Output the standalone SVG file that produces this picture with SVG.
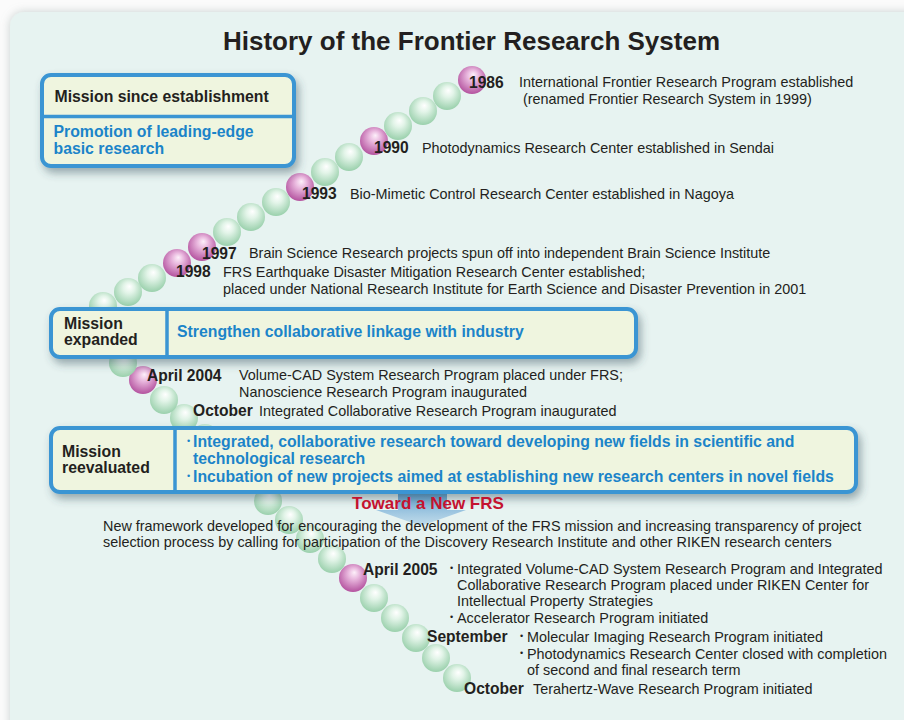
<svg xmlns="http://www.w3.org/2000/svg" width="904" height="720" viewBox="0 0 904 720">
<defs>
<radialGradient id="gG" cx="0.5" cy="0.42" r="0.58" fx="0.55" fy="0.3">
<stop offset="0" stop-color="#ffffff"/>
<stop offset="0.35" stop-color="#e2f4e8"/>
<stop offset="1" stop-color="#9ad0ac"/>
</radialGradient>
<radialGradient id="gP" cx="0.5" cy="0.42" r="0.58" fx="0.55" fy="0.3">
<stop offset="0" stop-color="#fdf0fa"/>
<stop offset="0.35" stop-color="#e9b8de"/>
<stop offset="1" stop-color="#b4539f"/>
</radialGradient>
<linearGradient id="gA" x1="0" y1="0" x2="0" y2="1">
<stop offset="0" stop-color="#3f8cc6" stop-opacity="0.95"/>
<stop offset="1" stop-color="#a9cde6" stop-opacity="0.6"/>
</linearGradient>
<filter id="sh" x="-10%" y="-20%" width="125%" height="160%">
<feDropShadow dx="3" dy="5" stdDeviation="4" flood-color="#34505c" flood-opacity="0.45"/>
</filter>
<filter id="psh" x="-5%" y="-5%" width="110%" height="110%">
<feDropShadow dx="0" dy="0" stdDeviation="5" flood-color="#8a9a98" flood-opacity="0.45"/>
</filter>
<style>
.g{fill:url(#gG)}
.p{fill:url(#gP)}
.t{font-family:"Liberation Sans",Arial,sans-serif;fill:#231f20}
.d{font-size:14.4px}
.y{font-size:15.6px;font-weight:bold}
.mb{font-family:"Liberation Sans",Arial,sans-serif;font-size:15.8px;font-weight:bold;fill:#231f20}
.bl{font-family:"Liberation Sans",Arial,sans-serif;font-size:15.8px;font-weight:bold;fill:#1b84c9}
.bu{font-family:"Liberation Sans",Arial,sans-serif;font-size:9px}
.box{fill:#eff5df;stroke:#3a95d3;stroke-width:4}
.div{stroke:#3a95d3;stroke-width:3.5}
</style>
</defs>
<rect x="0" y="0" width="904" height="720" fill="#fbfbfb"/>
<rect x="10" y="12" width="930" height="740" rx="14" fill="#e7f3f1" filter="url(#psh)"/>

<text class="t" x="471.5" y="50" font-size="26" font-weight="bold" text-anchor="middle">History of the Frontier Research System</text>

<g id="beads">
<circle class="g" cx="457" cy="678" r="14"/>
<circle class="g" cx="436" cy="658" r="14"/>
<circle class="g" cx="416" cy="638" r="14"/>
<circle class="g" cx="395" cy="618" r="14"/>
<circle class="g" cx="374" cy="598" r="14"/>
<circle class="p" cx="353" cy="578" r="14"/>
<circle class="g" cx="332" cy="559" r="14"/>
<circle class="g" cx="310" cy="539" r="14"/>
<circle class="g" cx="289" cy="520" r="14"/>
<circle class="g" cx="268" cy="501" r="14"/>
<circle class="g" cx="247" cy="480" r="14"/>
<circle class="g" cx="226" cy="459" r="14"/>
<circle class="g" cx="205" cy="438" r="14"/>
<circle class="g" cx="184" cy="418" r="14"/>
<circle class="g" cx="164" cy="400" r="14"/>
<circle class="p" cx="143" cy="380" r="14"/>
<circle class="g" cx="123" cy="363" r="14"/>
<circle class="g" cx="100" cy="345" r="14"/>
<circle class="g" cx="86" cy="327" r="14"/>
<circle class="g" cx="103" cy="306" r="14"/>
<circle class="g" cx="128" cy="292" r="14"/>
<circle class="g" cx="152" cy="278" r="14"/>
<circle class="p" cx="177" cy="263" r="14"/>
<circle class="p" cx="202" cy="247" r="14"/>
<circle class="g" cx="227" cy="232" r="14"/>
<circle class="g" cx="251" cy="217" r="14"/>
<circle class="g" cx="276" cy="202" r="14"/>
<circle class="p" cx="300" cy="187" r="14"/>
<circle class="g" cx="325" cy="172" r="14"/>
<circle class="g" cx="349" cy="157" r="14"/>
<circle class="p" cx="374" cy="141" r="14"/>
<circle class="g" cx="398" cy="126" r="14"/>
<circle class="g" cx="423" cy="111" r="14"/>
<circle class="g" cx="447" cy="96" r="14"/>
<circle class="p" cx="472" cy="80" r="14"/>
</g>

<g id="arrow">
<path d="M398,488 L447,488 L447,510 L466,510 L421,526 L376,510 L398,510 Z" fill="url(#gA)"/>
</g>

<g id="mission1">
<rect class="box" x="42" y="75" width="252" height="91" rx="9" filter="url(#sh)"/>
<line class="div" x1="42" y1="116.5" x2="294" y2="116.5"/>
<text class="mb" x="54.5" y="102">Mission since establishment</text>
<text class="bl" x="53.5" y="137">Promotion of leading-edge</text>
<text class="bl" x="53.5" y="154">basic research</text>
</g>

<g id="mission2">
<rect class="box" x="51" y="309" width="585" height="48" rx="9" filter="url(#sh)"/>
<line class="div" x1="167" y1="309" x2="167" y2="357"/>
<text class="mb" x="64" y="329">Mission</text>
<text class="mb" x="64" y="345">expanded</text>
<text class="bl" x="177" y="337">Strengthen collaborative linkage with industry</text>
</g>

<g id="mission3">
<rect class="box" x="51" y="428" width="805" height="64" rx="9" filter="url(#sh)"/>
<line class="div" x1="175" y1="428" x2="175" y2="492"/>
<text class="mb" x="62" y="457">Mission</text>
<text class="mb" x="62" y="473">reevaluated</text>
<text class="bu" x="187" y="444" fill="#1b84c9">•</text>
<text class="bl" x="193" y="447">Integrated, collaborative research toward developing new fields in scientific and</text>
<text class="bl" x="193" y="464">technological research</text>
<text class="bu" x="187" y="479" fill="#1b84c9">•</text>
<text class="bl" x="193" y="482">Incubation of new projects aimed at establishing new research centers in novel fields</text>
</g>

<g id="e1986">
<text class="t y" x="469" y="88">1986</text>
<text class="t d" x="519" y="87">International Frontier Research Program established</text>
<text class="t d" x="523" y="104">(renamed Frontier Research System in 1999)</text>
</g>
<g id="e1990">
<text class="t y" x="374" y="153">1990</text>
<text class="t d" x="422" y="153">Photodynamics Research Center established in Sendai</text>
</g>
<g id="e1993">
<text class="t y" x="302" y="199">1993</text>
<text class="t d" x="350" y="199">Bio-Mimetic Control Research Center established in Nagoya</text>
</g>
<g id="e1997">
<text class="t y" x="202" y="259">1997</text>
<text class="t d" x="249" y="258">Brain Science Research projects spun off into independent Brain Science Institute</text>
</g>
<g id="e1998">
<text class="t y" x="176" y="277">1998</text>
<text class="t d" x="223" y="277">FRS Earthquake Disaster Mitigation Research Center established;</text>
<text class="t d" x="223" y="294">placed under National Research Institute for Earth Science and Disaster Prevention in 2001</text>
</g>
<g id="e2004a">
<text class="t y" x="147" y="381">April 2004</text>
<text class="t d" x="239" y="380">Volume-CAD System Research Program placed under FRS;</text>
<text class="t d" x="239" y="397">Nanoscience Research Program inaugurated</text>
</g>
<g id="e2004o">
<text class="t y" x="193" y="416">October</text>
<text class="t d" x="259" y="416">Integrated Collaborative Research Program inaugurated</text>
</g>
<g id="newfrs">
<text x="428" y="509" font-family="Liberation Sans, Arial, sans-serif" font-size="17" font-weight="bold" fill="#c4122f" text-anchor="middle">Toward a New FRS</text>
<text class="t d" x="103" y="531">New framework developed for encouraging the development of the FRS mission and increasing transparency of project</text>
<text class="t d" x="103" y="547">selection process by calling for participation of the Discovery Research Institute and other RIKEN research centers</text>
</g>
<g id="e2005a">
<text class="t y" x="363" y="575">April 2005</text>
<text class="t bu" x="450" y="571">•</text>
<text class="t d" x="457" y="574">Integrated Volume-CAD System Research Program and Integrated</text>
<text class="t d" x="457" y="590">Collaborative Research Program placed under RIKEN Center for</text>
<text class="t d" x="457" y="606">Intellectual Property Strategies</text>
<text class="t bu" x="450" y="620">•</text>
<text class="t d" x="457" y="623">Accelerator Research Program initiated</text>
</g>
<g id="e2005s">
<text class="t y" x="427" y="642">September</text>
<text class="t bu" x="520" y="639">•</text>
<text class="t d" x="527" y="642">Molecular Imaging Research Program initiated</text>
<text class="t bu" x="520" y="656">•</text>
<text class="t d" x="527" y="659">Photodynamics Research Center closed with completion</text>
<text class="t d" x="527" y="675">of second and final research term</text>
</g>
<g id="e2005o">
<text class="t y" x="464" y="694">October</text>
<text class="t d" x="533" y="694">Terahertz-Wave Research Program initiated</text>
</g>
</svg>
